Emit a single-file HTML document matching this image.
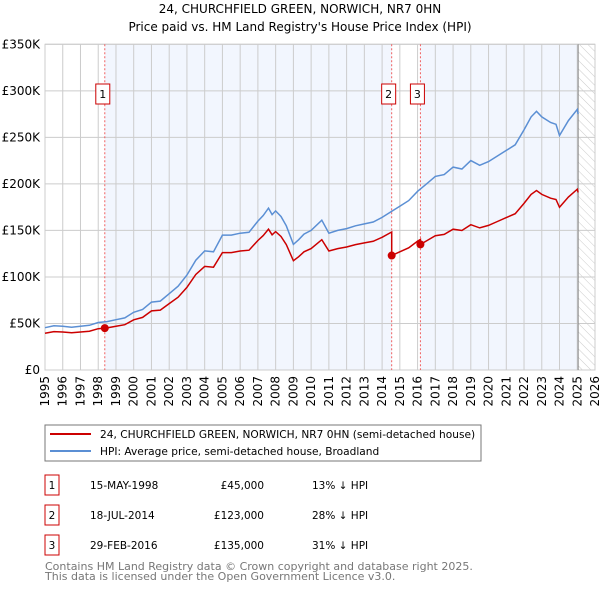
<!DOCTYPE html>
<html><head><meta charset="utf-8">
<style>
body{margin:0;background:#fff;width:600px;height:590px;overflow:hidden;font-family:"DejaVu Sans","Liberation Sans",sans-serif;}
svg text{font-family:"DejaVu Sans","Liberation Sans",sans-serif;}
</style></head>
<body>
<svg id="c" width="600" height="590" xmlns="http://www.w3.org/2000/svg">
<defs><pattern id="hatch" width="6" height="6" patternUnits="userSpaceOnUse" patternTransform="rotate(-45)"><line x1="0" y1="0" x2="0" y2="6" stroke="#ccc" stroke-width="1"/></pattern></defs>
<text x="300" y="13" text-anchor="middle" font-size="12">24, CHURCHFIELD GREEN, NORWICH, NR7 0HN</text>
<text x="300" y="31" text-anchor="middle" font-size="12">Price paid vs. HM Land Registry's House Price Index (HPI)</text>
<g id="plot"></g>
<rect x="45" y="425" width="436" height="36" fill="#fff" stroke="#777"/>
<line x1="50" y1="434" x2="91" y2="434" stroke="#cc0000" stroke-width="2"/>
<text x="100" y="438" font-size="10.6">24, CHURCHFIELD GREEN, NORWICH, NR7 0HN (semi-detached house)</text>
<line x1="50" y1="451" x2="91" y2="451" stroke="#5b8fd4" stroke-width="2"/>
<text x="100" y="455" font-size="10.6">HPI: Average price, semi-detached house, Broadland</text>
<g id="table" font-size="10.5"></g>
<text x="45" y="570" font-size="11" fill="#777">Contains HM Land Registry data © Crown copyright and database right 2025.</text>
<text x="45" y="580" font-size="11" fill="#777">This data is licensed under the Open Government Licence v3.0.</text>
</svg>
<script>
const hpiYears=[1995,1995.5,1996,1996.5,1997,1997.5,1998,1998.5,1999,1999.5,2000,2000.5,2001,2001.5,2002,2002.5,2003,2003.5,2004,2004.5,2005,2005.5,2006,2006.5,2007,2007.3,2007.6,2007.8,2008,2008.3,2008.6,2009,2009.3,2009.6,2010,2010.6,2011,2011.5,2012,2012.5,2013,2013.5,2014,2014.5,2015,2015.5,2016,2016.5,2017,2017.5,2018,2018.5,2019,2019.5,2020,2020.5,2021,2021.5,2022,2022.4,2022.7,2023,2023.5,2023.8,2024,2024.5,2025,2025.05];
const hpiValues=[45.5,47.5,47,46,47,48,51,52,54,56,62,65,73,74,82,90,102,118,128,127,145,145,147,148,160,166,174,167,171,165,155,135,140,146,150,161,147,150,152,155,157,159,164,170,176,182,192,200,208,210,218,216,225,220,224,230,236,242,258,272,278,272,266,264,252,268,280,275];
const saleYears=[1998.37,2014.54,2016.16];
const salePrices=[45,123,135];
const saleDates=["15-MAY-1998","18-JUL-2014","29-FEB-2016"];
const salePriceLabels=["£45,000","£123,000","£135,000"];
const saleDiffs=["13% ↓ HPI","28% ↓ HPI","31% ↓ HPI"];
const yTicks=[0,50,100,150,200,250,300,350];
const yTickLabels=["£0","£50K","£100K","£150K","£200K","£250K","£300K","£350K"];
const xTicks=[1995,1996,1997,1998,1999,2000,2001,2002,2003,2004,2005,2006,2007,2008,2009,2010,2011,2012,2013,2014,2015,2016,2017,2018,2019,2020,2021,2022,2023,2024,2025,2026];
const dataEnd=2025.05;

const NS="http://www.w3.org/2000/svg";
const X0=45,X1=595,Y0=370,Y1=44.3,YMIN=1995,YMAX=2026,VMAX=350;
const sx=y=>X0+(y-YMIN)/(YMAX-YMIN)*(X1-X0);
const sy=v=>Y0-v/VMAX*(Y0-Y1);
const plot=document.getElementById('plot');
function mk(tag,attrs,parent){const e=document.createElementNS(NS,tag);for(const k in attrs)e.setAttribute(k,attrs[k]);(parent||plot).appendChild(e);return e;}
function hpiAt(y){for(let i=0;i<hpiYears.length-1;i++){if(y>=hpiYears[i]&&y<=hpiYears[i+1]){const t=(y-hpiYears[i])/(hpiYears[i+1]-hpiYears[i]);return hpiValues[i]+t*(hpiValues[i+1]-hpiValues[i]);}}return hpiValues[hpiValues.length-1];}

let bg=mk('rect',{x:X0,y:Y1,width:X1-X0,height:Y0-Y1,fill:'#fff'});


const shades=[[saleYears[0],saleYears[1]],[saleYears[2],dataEnd]];
shades.forEach((s)=>{const r=mk('rect',{x:sx(s[0]),y:Y1,width:sx(s[1])-sx(s[0]),height:Y0-Y1,fill:'#eef3fd',opacity:0.75});

});
let h=mk('rect',{x:sx(dataEnd),y:Y1,width:X1-sx(dataEnd),height:Y0-Y1,fill:'url(#hatch)'});


xTicks.forEach(t=>{const l=mk('line',{x1:sx(t),x2:sx(t),y1:Y1,y2:Y0,stroke:'#ccc','stroke-width':1});


const tx=mk('text',{x:0,y:0,transform:`translate(${sx(t)+4},376) rotate(-90)`,'text-anchor':'end','font-size':12});
tx.textContent=t;

});
yTicks.forEach((t,i)=>{const l=mk('line',{x1:X0,x2:X1,y1:sy(t),y2:sy(t),stroke:'#ccc','stroke-width':1});


const tx=mk('text',{x:40,y:sy(t)+4,'text-anchor':'end','font-size':12});
tx.textContent=yTickLabels[i];

});
let ax=mk('rect',{x:X0,y:Y1,width:X1-X0,height:Y0-Y1,fill:'none',stroke:'#ccc'});


let el=mk('line',{x1:sx(dataEnd),x2:sx(dataEnd),y1:Y1,y2:Y0,stroke:'#888','stroke-width':1});


saleYears.forEach((s,i)=>{const l=mk('line',{x1:sx(s),x2:sx(s),y1:Y1,y2:Y0,stroke:'#f06060','stroke-dasharray':'2,2','stroke-width':1});


const bxX=i==0?sx(s)-9:sx(s)-10;
const bx=mk('rect',{x:bxX,y:84,width:14,height:20,fill:'#fff',stroke:'#cc0000'});


const tt=mk('text',{x:bxX+7,y:98,'text-anchor':'middle','font-size':11});
tt.textContent=i+1;

});
let d='';hpiYears.forEach((y,i)=>{d+=(i?'L':'M')+sx(y).toFixed(1)+','+sy(hpiValues[i]).toFixed(1);});
let hp=mk('path',{d:d,fill:'none',stroke:'#5b8fd4','stroke-width':1.5});


let pts=[];
function ratioAt(y){let k=0;for(let i=0;i<saleYears.length;i++)if(y>=saleYears[i])k=i;return salePrices[k]/hpiAt(saleYears[k]);}
const allY=hpiYears.concat(saleYears.flatMap(s=>[s-0.001,s])).sort((a,b)=>a-b);
allY.forEach(y=>{pts.push([sx(y),sy(hpiAt(y)*ratioAt(y))]);});
let pd=pts.map((p,i)=>(i?'L':'M')+p[0].toFixed(1)+','+p[1].toFixed(1)).join('');
let pp=mk('path',{d:pd,fill:'none',stroke:'#cc0000','stroke-width':1.5});


saleYears.forEach((s,i)=>{const c=mk('circle',{cx:sx(s),cy:sy(salePrices[i]),r:4,fill:'#cc0000'});

});
const tb=document.getElementById('table');
saleYears.forEach((s,i)=>{const y0=475+i*30;
const b=mk('rect',{x:45,y:y0,width:14,height:20,fill:'#fff',stroke:'#cc0000'},tb);


const cells=[[52,(i+1)+'','middle'],[90,saleDates[i],'start'],[264,salePriceLabels[i],'end'],[312,saleDiffs[i],'start']];
cells.forEach(c=>{const t=mk('text',{x:c[0],y:y0+14,'text-anchor':c[2]},tb);t.textContent=c[1];

});});
</script>
</body></html>
